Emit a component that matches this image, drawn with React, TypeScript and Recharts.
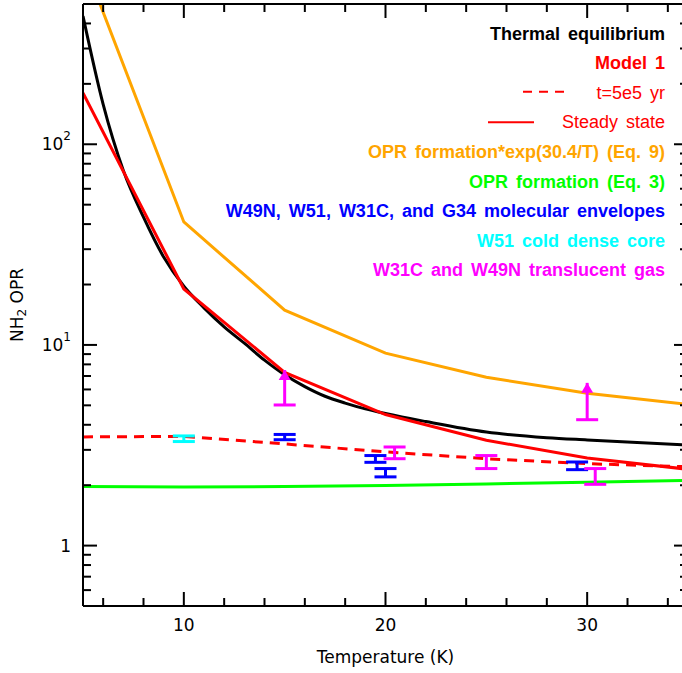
import React from 'react';
import { ComposedChart, Line, Scatter, XAxis, YAxis, ErrorBar, Legend } from 'recharts';

const FONT = '"Liberation Sans", Arial, sans-serif';
const AXIS_FONT = '"DejaVu Sans", sans-serif';
const BLACK = '#000000';
const RED = '#ff0000';
const ORANGE = '#ffa500';
const GREEN = '#00ff00';
const BLUE = '#0000ff';
const CYAN = '#00ffff';
const MAGENTA = '#ff00ff';

// ---- data ----
const modelT = [5, 10, 15, 20, 25, 30, 35];
const steadyState = [180, 19, 7.3, 4.5, 3.35, 2.73, 2.4];
const timeDep5e5 = [3.48, 3.5, 3.21, 2.93, 2.71, 2.56, 2.47];
const oprFormationExp = [830, 41, 14.9, 9.1, 6.9, 5.75, 5.05];
const oprFormation = [1.97, 1.96, 1.97, 1.99, 2.03, 2.07, 2.11];

const thermalT = [5, 6, 7, 8, 9, 10, 11, 12, 13, 14, 15, 16, 17, 18, 19, 20, 22, 25, 28, 30, 35];
const thermalOPR = [435, 158, 74, 43.3, 27.4, 19.6, 15.3, 12.3, 10.2, 8.4, 7.1, 6.2, 5.55, 5.13, 4.8, 4.55, 4.15, 3.68, 3.45, 3.36, 3.17];

const envT = [15, 19.5, 20, 29.5];
const envLow = [3.37, 2.6, 2.2, 2.39];
const envHigh = [3.58, 2.81, 2.42, 2.61];

const coreT = [10];
const coreLow = [3.3];
const coreHigh = [3.52];

const transT = [20.45, 25, 30.4];
const transLow = [2.71, 2.42, 2.02];
const transHigh = [3.1, 2.81, 2.42];

const limT = [15, 30];
const limLow = [5.02, 4.24];
const limTip = [7.5, 6.47];

const xMajor = [10, 20, 30];
const xMinor = [6, 8, 12, 14, 16, 18, 22, 24, 26, 28, 32, 34];
const yMajor = [1, 10, 100];
const yMinor = [0.6, 0.7, 0.8, 0.9, 2, 3, 4, 5, 6, 7, 8, 9, 20, 30, 40, 50, 60, 70, 80, 90, 200, 300, 400];
const yMajorBase = ['1', '10', '10'];
const yMajorExp = ['', '1', '2'];

const legendLabels = [
  'Thermal equilibrium',
  'Model 1',
  't=5e5 yr',
  'Steady state',
  'OPR formation*exp(30.4/T) (Eq. 9)',
  'OPR formation (Eq. 3)',
  'W49N, W51, W31C, and G34 molecular envelopes',
  'W51 cold dense core',
  'W31C and W49N translucent gas',
];
const legendColors = [BLACK, RED, RED, RED, ORANGE, GREEN, BLUE, CYAN, MAGENTA];
const legendBold = [true, true, false, false, true, true, true, true, true];
const legendSample = ['', '', 'dashed', 'solid', '', '', '', '', ''];

// ---- tables ----
const series = (xs: number[], ys: number[]) => xs.map((T, i) => ({ T, v: ys[i] }));
const bars = (xs: number[], lo: number[], hi: number[]) =>
  xs.map((T, i) => {
    const v = (lo[i] + hi[i]) / 2;
    return { T, v, err: [v - lo[i], hi[i] - v] };
  });

const thermalData = series(thermalT, thermalOPR);
const steadyData = series(modelT, steadyState);
const t5e5Data = series(modelT, timeDep5e5);
const expData = series(modelT, oprFormationExp);
const formData = series(modelT, oprFormation);
const envData = bars(envT, envLow, envHigh);
const coreData = bars(coreT, coreLow, coreHigh);
const transData = bars(transT, transLow, transHigh);
const limCapData = series(limT, limLow);
const limTipData = limT.map((T, i) => ({ T, v: limTip[i], err: [limTip[i] - limLow[i], 0] }));

const xTicks = [...xMajor, ...xMinor].sort((a, b) => a - b);
const yTicks = [...yMajor, ...yMinor].sort((a, b) => a - b);

const MAJOR_LEN = 14;
const MINOR_LEN = 8;
const TICK_STYLE = { stroke: BLACK, strokeWidth: 2 };

// ---- renderers ----
const EmptyShape = () => <g />;

const makeXTick = (side: 'bottom' | 'top') => (p: any) => {
  const v = p.payload.value;
  const major = xMajor.includes(v);
  const len = major ? MAJOR_LEN : MINOR_LEN;
  const dir = side === 'bottom' ? -1 : 1;
  return (
    <g>
      <line x1={p.x} x2={p.x} y1={p.y} y2={p.y + dir * len} {...TICK_STYLE} />
      {side === 'bottom' && major ? (
        <text x={p.x} y={p.y + 19} textAnchor="middle" dominantBaseline="central" fontFamily={AXIS_FONT} fontSize={17} fill={BLACK}>
          {v}
        </text>
      ) : null}
    </g>
  );
};

const makeYTick = (side: 'left' | 'right') => (p: any) => {
  const v = p.payload.value;
  const idx = yMajor.indexOf(v);
  const major = idx >= 0;
  const len = major ? MAJOR_LEN : MINOR_LEN;
  const dir = side === 'left' ? 1 : -1;
  return (
    <g>
      <line x1={p.x} x2={p.x + dir * len} y1={p.y} y2={p.y} {...TICK_STYLE} />
      {side === 'left' && major ? (
        <text x={p.x - 12} y={p.y} textAnchor="end" dominantBaseline="central" fontFamily={AXIS_FONT} fontSize={17} fill={BLACK}>
          <tspan>{yMajorBase[idx]}</tspan>
          {yMajorExp[idx] ? (
            <tspan dy={-8} fontSize={12}>
              {yMajorExp[idx]}
            </tspan>
          ) : null}
        </text>
      ) : null}
    </g>
  );
};

const XTickBottom = makeXTick('bottom');
const XTickTop = makeXTick('top');
const YTickLeft = makeYTick('left');
const YTickRight = makeYTick('right');

const ArrowHead = (p: any) => (
  <polygon points={`${p.cx},${p.cy} ${p.cx - 6},${p.cy + 10} ${p.cx + 6},${p.cy + 10}`} fill={MAGENTA} />
);
const LimitCap = (p: any) => (
  <line x1={p.cx - 11} x2={p.cx + 11} y1={p.cy} y2={p.cy} stroke={MAGENTA} strokeWidth={3} />
);

const LegendContent = () => (
  <svg width={690} height={300} style={{ display: 'block' }}>
    {legendLabels.map((label, i) => {
      const base = 39.5 + i * 29.6;
      return (
        <g key={label}>
          <text
            x={665}
            y={base}
            textAnchor="end"
            fontFamily={FONT}
            fontSize={18}
            fontWeight={legendBold[i] ? 'bold' : 'normal'}
            fill={legendColors[i]}
            wordSpacing={3}
          >
            {label}
          </text>
          {legendSample[i] === 'dashed' ? (
            <line x1={523} x2={568} y1={base - 7} y2={base - 7} stroke={RED} strokeWidth={2} strokeDasharray="9 7" />
          ) : null}
          {legendSample[i] === 'solid' ? (
            <line x1={488} x2={534} y1={base - 6} y2={base - 6} stroke={RED} strokeWidth={2} />
          ) : null}
        </g>
      );
    })}
  </svg>
);

const axisStroke = { stroke: BLACK, strokeWidth: 2 };
const xCommon = {
  type: 'number' as const,
  dataKey: 'T',
  domain: [5, 35],
  allowDataOverflow: true,
  ticks: xTicks,
  interval: 0 as const,
  height: 1,
  tickSize: 0,
  tickMargin: 0,
  tickLine: false,
  axisLine: axisStroke,
};
const yCommon = {
  type: 'number' as const,
  dataKey: 'v',
  scale: 'log' as const,
  domain: [0.5, 500],
  allowDataOverflow: true,
  ticks: yTicks,
  interval: 0 as const,
  width: 1,
  tickSize: 0,
  tickMargin: 0,
  tickLine: false,
  axisLine: axisStroke,
};

export default function App() {
  return (
    <div style={{ position: 'absolute', left: 0, top: 0, width: 682, height: 673, overflow: 'hidden', background: '#fff' }}>
      <ComposedChart width={690} height={673} margin={{ top: 3, right: 1, bottom: 66, left: 82 }}>
        <XAxis
          xAxisId="x"
          {...xCommon}
          orientation="bottom"
          tick={XTickBottom}
          label={{
            content: ({ viewBox }: any) => (
              <text
                x={viewBox.x + viewBox.width / 2}
                y={viewBox.y + 57}
                textAnchor="middle"
                fontFamily={AXIS_FONT}
                fontSize={17}
                fill={BLACK}
              >
                Temperature (K)
              </text>
            ),
          }}
        />
        <XAxis xAxisId="xt" {...xCommon} orientation="top" tick={XTickTop} />

        <YAxis
          yAxisId="y"
          {...yCommon}
          orientation="left"
          tick={YTickLeft}
          label={{
            content: ({ viewBox }: any) => {
              const cx = viewBox.x + viewBox.width - 66;
              const cy = viewBox.y + viewBox.height / 2;
              return (
                <text
                  x={cx}
                  y={cy}
                  transform={`rotate(-90 ${cx} ${cy})`}
                  textAnchor="middle"
                  dominantBaseline="central"
                  fontFamily={AXIS_FONT}
                  fontSize={17}
                  fill={BLACK}
                >
                  <tspan>NH</tspan>
                  <tspan dy={5} fontSize={12}>2</tspan>
                  <tspan dy={-5}> OPR</tspan>
                </text>
              );
            },
          }}
        />
        <YAxis yAxisId="yr" {...yCommon} orientation="right" tick={YTickRight} />

        <Legend layout="vertical" align="center" verticalAlign="middle" content={LegendContent} wrapperStyle={{ top: 0, left: 0, width: 690, height: 300, pointerEvents: 'none' }} />

        <Line xAxisId="x" yAxisId="y" data={formData} dataKey="v" type="linear" stroke={GREEN} strokeWidth={3} dot={false} isAnimationActive={false} />
        <Line xAxisId="x" yAxisId="y" data={expData} dataKey="v" type="linear" stroke={ORANGE} strokeWidth={3} dot={false} isAnimationActive={false} />
        <Line xAxisId="x" yAxisId="y" data={thermalData} dataKey="v" type="monotone" stroke={BLACK} strokeWidth={3} dot={false} isAnimationActive={false} />
        <Line xAxisId="x" yAxisId="y" data={t5e5Data} dataKey="v" type="linear" stroke={RED} strokeWidth={3} strokeDasharray="10 7" dot={false} isAnimationActive={false} />
        <Line xAxisId="x" yAxisId="y" data={steadyData} dataKey="v" type="linear" stroke={RED} strokeWidth={3} dot={false} isAnimationActive={false} />

        <Scatter xAxisId="x" yAxisId="y" data={coreData} dataKey="v" shape={EmptyShape} isAnimationActive={false}>
          <ErrorBar dataKey="err" direction="y" width={11} stroke={CYAN} strokeWidth={3} isAnimationActive={false} />
        </Scatter>
        <Scatter xAxisId="x" yAxisId="y" data={envData} dataKey="v" shape={EmptyShape} isAnimationActive={false}>
          <ErrorBar dataKey="err" direction="y" width={11} stroke={BLUE} strokeWidth={3} isAnimationActive={false} />
        </Scatter>
        <Scatter xAxisId="x" yAxisId="y" data={transData} dataKey="v" shape={EmptyShape} isAnimationActive={false}>
          <ErrorBar dataKey="err" direction="y" width={11} stroke={MAGENTA} strokeWidth={3} isAnimationActive={false} />
        </Scatter>
        <Scatter xAxisId="x" yAxisId="y" data={limTipData} dataKey="v" shape={ArrowHead} isAnimationActive={false}>
          <ErrorBar dataKey="err" direction="y" width={0} stroke={MAGENTA} strokeWidth={3} isAnimationActive={false} />
        </Scatter>
        <Scatter xAxisId="x" yAxisId="y" data={limCapData} dataKey="v" shape={LimitCap} isAnimationActive={false} />
      </ComposedChart>
    </div>
  );
}
